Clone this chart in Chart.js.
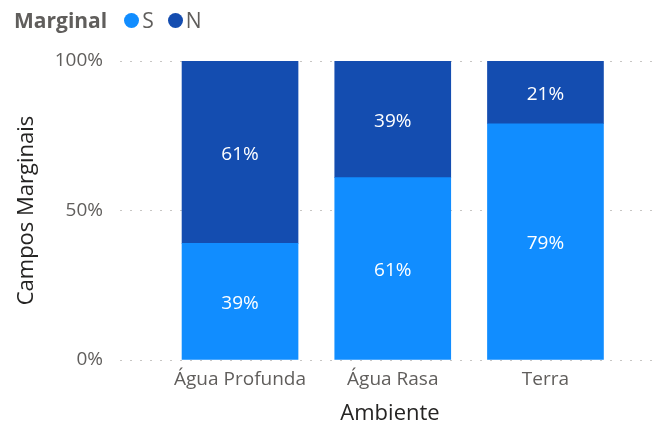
<!DOCTYPE html>
<html>
<head>
<meta charset="utf-8">
<script src="https://cdn.jsdelivr.net/npm/chart.js@4/dist/chart.umd.min.js"></script>
<style>
  html, body { margin: 0; padding: 0; background: #fff; }
  #wrap { position: relative; width: 666px; height: 422px; font-family: "Segoe UI", "Open Sans", sans-serif; }
  #legend { position: absolute; left: 14px; top: 6px; display: flex; align-items: center; font-size: 21px; color: #605E5C; z-index: 2; }
  #legend .title { font-weight: bold; margin-right: 17px; }
  #legend .item { display: flex; align-items: center; margin-right: 14px; }
  #legend .dot { width: 15px; height: 15px; border-radius: 50%; margin-right: 3px; }
  canvas { position: absolute; left: 0; top: 0; }
</style>
</head>
<body>
<div id="wrap">
  <div id="legend"></div>
  <canvas id="chart" width="666" height="422"></canvas>
</div>
<script>
// data
const categories = ['Água Profunda', 'Água Rasa', 'Terra'];
const seriesNames = ['S', 'N'];
const valuesS = [39, 61, 79];
const valuesN = [61, 39, 21];
const yTicks = [0, 50, 100];
const colors = ['#118DFF', '#144DB0'];

const FONT = '"Segoe UI", "Open Sans", sans-serif';

// legend (html)
const legend = document.getElementById('legend');
legend.innerHTML = '<span class="title">Marginal</span>' +
  seriesNames.map((n, i) =>
    `<span class="item"><span class="dot" style="background:${colors[i]}"></span>${n}</span>`
  ).join('');

// labels inside segments
const barLabels = {
  id: 'barLabels',
  afterDatasetsDraw(chart) {
    const ctx = chart.ctx;
    ctx.save();
    ctx.fillStyle = '#ffffff';
    ctx.font = '19px ' + FONT;
    ctx.textAlign = 'center';
    ctx.textBaseline = 'middle';
    chart.data.datasets.forEach((ds, di) => {
      chart.getDatasetMeta(di).data.forEach((bar, i) => {
        const v = ds.data[i].y;
        ctx.fillText(v + '%', bar.x, (bar.y + bar.base) / 2 + 2);
      });
    });
    ctx.restore();
  }
};

const toPoints = arr => arr.map((v, i) => ({ x: i, y: v }));

new Chart(document.getElementById('chart'), {
  type: 'bar',
  data: {
    datasets: [
      { label: seriesNames[0], data: toPoints(valuesS), backgroundColor: colors[0] },
      { label: seriesNames[1], data: toPoints(valuesN), backgroundColor: colors[1] }
    ]
  },
  options: {
    responsive: false,
    animation: false,
    datasets: { bar: { barThickness: 116 } },
    layout: { padding: { top: 61, right: 6, left: 14, bottom: 0 } },
    plugins: {
      legend: { display: false },
      tooltip: { enabled: false }
    },
    scales: {
      x: {
        type: 'linear',
        stacked: true,
        offset: false,
        min: -0.786,
        max: 2.75,
        afterBuildTicks: scale => { scale.ticks = categories.map((c, i) => ({ value: i })); },
        afterFit: scale => { scale.height = 62; },
        grid: { display: false, drawTicks: false },
        border: { display: false },
        ticks: {
          callback: v => categories[v],
          color: '#605E5C',
          font: { size: 19, family: FONT },
          padding: 8,
          maxRotation: 0,
          autoSkip: false
        },
        title: {
          display: true,
          text: 'Ambiente',
          color: '#252423',
          font: { size: 22, family: FONT, lineHeight: 0.72 },
          padding: 0
        }
      },
      y: {
        stacked: true,
        min: 0,
        max: 100,
        afterBuildTicks: scale => { scale.ticks = yTicks.map(v => ({ value: v })); },
        afterFit: scale => { scale.width = 106; },
        grid: { color: '#C8C6C4', lineWidth: 1, drawTicks: false },
        border: { display: false, dash: [2, 8] },
        ticks: {
          callback: v => v + '%',
          color: '#605E5C',
          font: { size: 19, family: FONT },
          padding: 17
        },
        title: {
          display: true,
          text: 'Campos Marginais',
          color: '#252423',
          font: { size: 22, family: FONT },
          padding: 0
        }
      }
    }
  },
  plugins: [barLabels]
});
</script>
</body>
</html>
